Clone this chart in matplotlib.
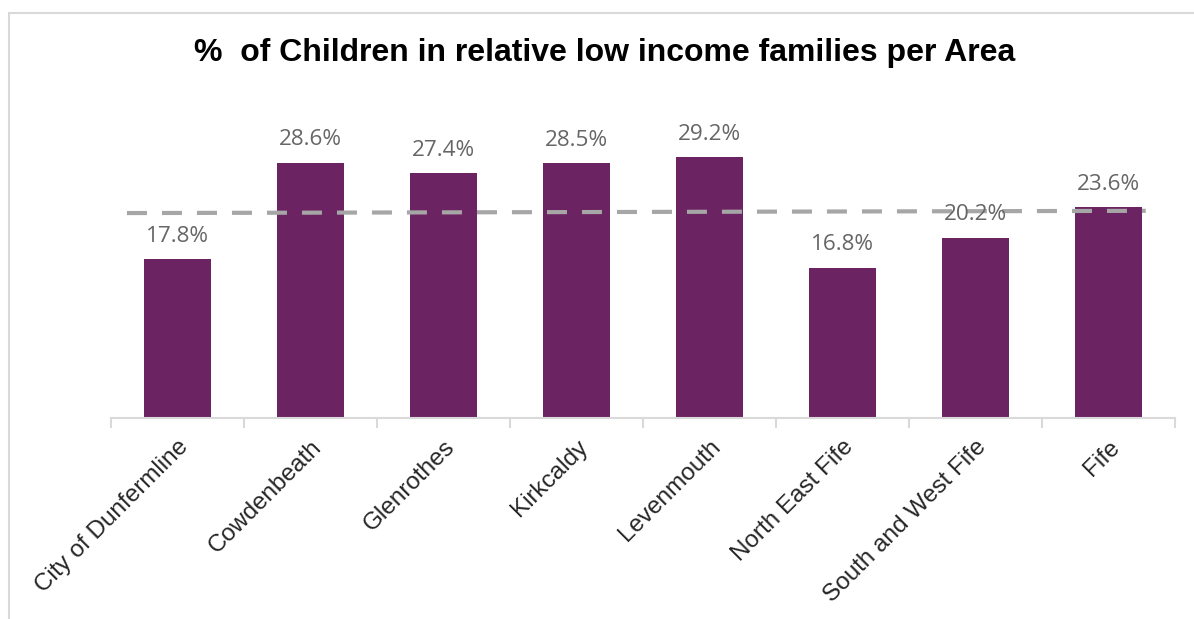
import matplotlib
matplotlib.use("Agg")
import matplotlib.pyplot as plt
from matplotlib.patches import Rectangle
import numpy as np

areas = ["City of Dunfermline", "Cowdenbeath", "Glenrothes", "Kirkcaldy",
         "Levenmouth", "North East Fife", "South and West Fife", "Fife"]
values = [17.8, 28.6, 27.4, 28.5, 29.2, 16.8, 20.2, 23.6]
labels = ["17.8%", "28.6%", "27.4%", "28.5%", "29.2%", "16.8%", "20.2%", "23.6%"]
ref_line_x = [-0.38, 7.28]
ref_line_y = [22.95, 23.2]

W, H = 1194, 619
fig = plt.figure(figsize=(W / 100, H / 100), dpi=100)
fig.patch.set_facecolor("white")

# frame border
fig.add_artist(Rectangle((9 / W, -0.2), 1.3, 1.2 - 13 / H, transform=fig.transFigure,
                         fill=False, edgecolor="#d9d9d9", linewidth=1.5, clip_on=False))

ax_left, ax_right = 111 / W, 1175 / W
ax_bottom = (H - 418) / H
ymax = 32
px_per = 8.93
ax_h = ymax * px_per / H
ax = fig.add_axes([ax_left, ax_bottom, ax_right - ax_left, ax_h])

x = np.arange(len(areas))
ax.bar(x, values, width=0.5, color="#6c2362", zorder=2)
ax.plot(ref_line_x, ref_line_y, color="#a6a6a6", linewidth=3, dashes=(4.8, 3.6), zorder=3)

for xi, v, lab in zip(x, values, labels):
    ax.annotate(lab, (xi, v), xytext=(0, 9), textcoords="offset points",
                ha="center", va="bottom", fontsize=16.2, color="#666666",
                family="Open Sans", zorder=4)

ax.set_xlim(-0.5, len(areas) - 0.5)
ax.set_ylim(0, ymax)
for s in ["top", "right", "left"]:
    ax.spines[s].set_visible(False)
ax.spines["bottom"].set_color("#d9d9d9")
ax.spines["bottom"].set_linewidth(1.5)
ax.set_yticks([])
ax.set_xticks(x)
ax.set_xticklabels(areas, rotation=45, ha="right", rotation_mode="anchor",
                   fontsize=17.5, family="Liberation Sans", color="#262626")
ax.tick_params(axis="x", which="major", length=0, pad=13)
ax.set_xticks(np.arange(-0.5, len(areas), 1.0), minor=True)
ax.tick_params(axis="x", which="minor", length=7, width=1.5, color="#d9d9d9")

fig.text(605 / W, 1 - 53 / H, "%  of Children in relative low income families per Area",
         ha="center", va="center", fontsize=23, fontweight="bold",
         family="Liberation Sans", color="black")

fig.savefig("out.png", dpi=100, facecolor="white")
